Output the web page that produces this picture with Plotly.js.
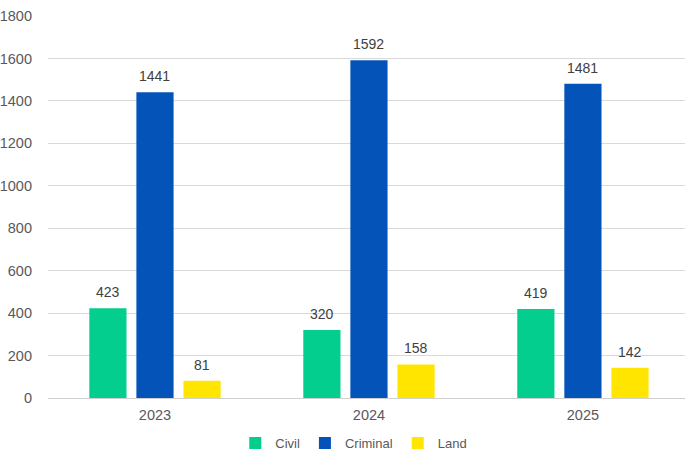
<!DOCTYPE html>
<html>
<head>
<meta charset="utf-8">
<script src="https://cdn.plot.ly/plotly-3.0.1.min.js"></script>
<style>html,body{margin:0;padding:0;background:#fff;}#chart{width:685px;height:454px;}</style>
</head>
<body>
<div id="chart"></div>
<script>
const years = ['2023', '2024', '2025'];
const civil = [423, 320, 419];
const criminal = [1441, 1592, 1481];
const land = [81, 158, 142];
const yTicks = [0, 200, 400, 600, 800, 1000, 1200, 1400, 1600, 1800];

const font = {family: 'Liberation Sans, Arial, sans-serif', size: 14.5, color: '#595959'};
const bargap = 0.34;
const series = [
  {name: 'Civil', vals: civil, color: '#03CE8D'},
  {name: 'Criminal', vals: criminal, color: '#0353B9'},
  {name: 'Land', vals: land, color: '#FFE500'}
];
const data = series.map(s => ({
  type: 'bar', name: s.name, x: years, y: s.vals,
  marker: {color: s.color}, hoverinfo: 'skip'
}));
const slot = (1 - bargap) / series.length;
const annotations = [];
series.forEach((s, k) => {
  s.vals.forEach((v, i) => {
    annotations.push({
      x: i + (k - (series.length - 1) / 2) * slot, y: v, xref: 'x', yref: 'y',
      text: String(v), showarrow: false, yanchor: 'bottom', yshift: 6,
      font: {family: font.family, size: 14, color: '#404040'}
    });
  });
});
const layout = {
  width: 685, height: 454,
  margin: {l: 48, r: 0, t: 16, b: 56},
  paper_bgcolor: '#ffffff', plot_bgcolor: '#ffffff',
  font: font,
  barmode: 'group', bargap: bargap, bargroupgap: 0.21,
  showlegend: true,
  legend: {orientation: 'h', x: 0.48, xanchor: 'center', yref: 'container', y: 0.024, yanchor: 'middle',
           font: {family: font.family, size: 13, color: '#595959'}, itemwidth: 30},
  annotations: annotations,
  xaxis: {type: 'category', range: [-0.5, 2.477], showgrid: false, zeroline: false,
          showline: false, ticks: '', tickfont: font, ticklabelstandoff: 6, fixedrange: true},
  yaxis: {range: [0, 1800], tickvals: yTicks, ticktext: yTicks.map(String),
          showgrid: true, gridcolor: '#d9d9d9', gridwidth: 1,
          zeroline: true, zerolinecolor: '#d0d0d0', zerolinewidth: 1,
          showline: false, ticks: '', ticklabelstandoff: 15, tickfont: font, fixedrange: true}
};
Plotly.newPlot('chart', data, layout, {displayModeBar: false, staticPlot: true});
</script>
</body>
</html>
